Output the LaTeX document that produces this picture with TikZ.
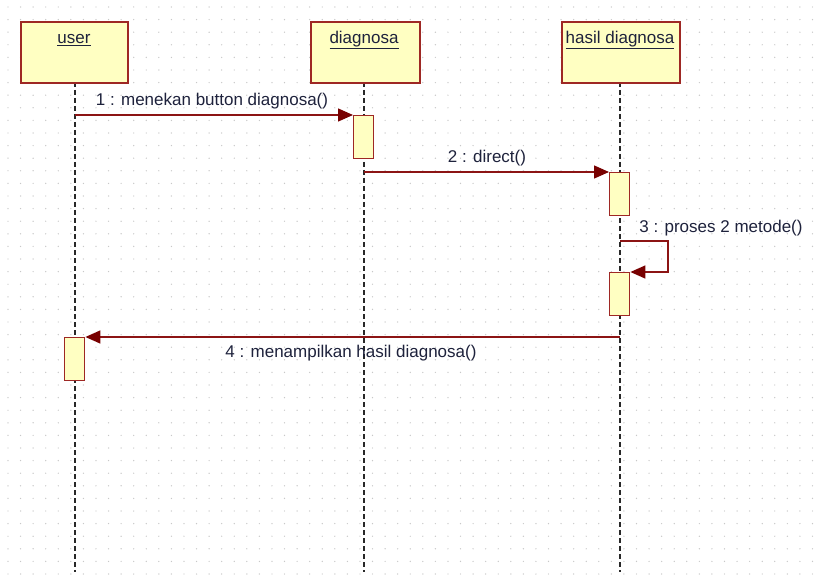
\documentclass[tikz,border=0pt]{standalone}
\usepackage{fontspec}
\setmainfont{Liberation Sans}
\usetikzlibrary{arrows.meta}
\definecolor{boxfill}{RGB}{255,255,194}
\definecolor{boxline}{RGB}{158,40,36}
\definecolor{msgline}{RGB}{140,20,20}
\definecolor{tipcol}{RGB}{120,0,0}
\definecolor{txt}{RGB}{30,34,60}
\definecolor{dotcol}{RGB}{200,200,200}
\definecolor{lifecol}{RGB}{40,40,40}
\tikzset{
  x=1pt, y=-1pt,
  headbox/.style={draw=boxline, fill=boxfill, line width=1.8pt, minimum width=#1, minimum height=61pt, inner sep=0pt, anchor=north west},
  actbox/.style={draw=boxline, fill=boxfill, line width=1.4pt, minimum width=20pt, minimum height=43pt, inner sep=0pt, anchor=north west},
  lifeline/.style={lifecol, line width=1.4pt, dash pattern=on 5pt off 3pt},
  msg/.style={msgline, line width=1.4pt, -{Triangle[length=15pt,width=13pt,color=tipcol]}},
  lbl/.style={txt, font=\fontsize{17}{20}\selectfont, inner sep=0pt},
  ttl/.style={txt, font=\fontsize{17}{20}\selectfont, inner sep=0pt, anchor=base},
}
\begin{document}
\begin{tikzpicture}
\useasboundingbox (0,0) rectangle (816,580);
\fill[white] (0,0) rectangle (816,580);
% grid dots
\foreach \i in {0,...,64} {
  \foreach \j in {0,...,45} {
    \fill[dotcol] (8+\i*12.57, 7+\j*12.6) circle (0.7pt);
  }
}
% lifelines
\coordinate (uTop) at (75,82);
\coordinate (uBot) at (75,572);
\coordinate (dTop) at (364,82);
\coordinate (dBot) at (364,572);
\coordinate (hTop) at (620,82);
\coordinate (hBot) at (620,572);
\draw[lifeline] (uTop) -- (uBot);
\draw[lifeline] (dTop) -- (dBot);
\draw[lifeline] (hTop) -- (hBot);
% heads
\node[headbox=107pt] (user) at (20,21) {};
\node[headbox=109pt] (diag) at (310,21) {};
\node[headbox=118pt] (hasil) at (561,21) {};
\node[ttl] (userT) at (74,43.5) {\underline{user}};
\node[ttl] (diagT) at (364,43.5) {\underline{diagnosa}};
\node[ttl] (hasilT) at (620,43.5) {\underline{hasil diagnosa}};
% activations
\node[actbox] (a1) at (353,115) {};
\node[actbox] (a2) at (609,172) {};
\node[actbox] (a3) at (609,272) {};
\node[actbox] (a4) at (64,337) {};
% messages
\coordinate (m1s) at (75,115);
\draw[msg] (m1s) -- (a1.north west);
\node[lbl] (l1) at (212,101) {1 : menekan button diagnosa()};
\coordinate (m2s) at (364,172);
\draw[msg] (m2s) -- (a2.north west);
\node[lbl] (l2) at (487,158) {2 : direct()};
\coordinate (m3s) at (620,241);
\coordinate (m3a) at (668,241);
\coordinate (m3b) at (668,272);
\draw[msg] (m3s) -- (m3a) -- (m3b) -- (a3.north east);
\node[lbl] (l3) at (721,228) {3 : proses 2 metode()};
\coordinate (m4s) at (620,337);
\draw[msg] (m4s) -- (a4.north east);
\node[lbl] (l4) at (351,353) {4 : menampilkan hasil diagnosa()};
\end{tikzpicture}
\end{document}
